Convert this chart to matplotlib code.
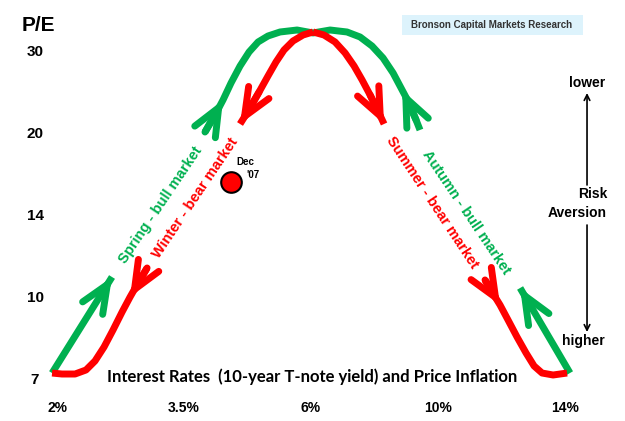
import matplotlib
matplotlib.use("Agg")
import matplotlib.pyplot as plt
from matplotlib.patches import Rectangle

# couleurs
verde = '#00B050'
vermelho = '#FF0000'

# eixos: posicao dos rotulos (indice 0..4)
x_rotulos = ['2%', '3.5%', '6%', '10%', '14%']
y_rotulos = ['7', '10', '14', '20', '30']

# caminhos (em unidades de indice dos eixos)
spring_x = [-0.039, 0.433]
spring_y = [0.085, 1.256]

winter_baixo_x = [0.709, 0.638, 0.575, 0.512, 0.441, 0.370, 0.299, 0.228, 0.142, 0.039, -0.039]
winter_baixo_y = [1.366, 1.183, 1.012, 0.829, 0.610, 0.402, 0.232, 0.122, 0.073, 0.073, 0.085]

topo_verde_x = [1.165, 1.236, 1.307, 1.370, 1.441, 1.512, 1.583, 1.661, 1.756, 1.890, 2.016,
                2.150, 2.283, 2.386, 2.480, 2.567, 2.646, 2.717, 2.780, 2.827, 2.858]
topo_verde_y = [3.024, 3.207, 3.415, 3.622, 3.829, 4.000, 4.122, 4.195, 4.244, 4.268, 4.232,
                4.268, 4.244, 4.183, 4.073, 3.927, 3.744, 3.537, 3.354, 3.171, 3.049]

topo_verm_esq_x = [2.016, 1.937, 1.858, 1.787, 1.724, 1.661, 1.591, 1.520, 1.441]
topo_verm_esq_y = [4.244, 4.207, 4.134, 4.024, 3.878, 3.707, 3.512, 3.317, 3.122]
topo_verm_dir_x = [2.016, 2.102, 2.189, 2.268, 2.339, 2.402, 2.465, 2.520, 2.575]
topo_verm_dir_y = [4.244, 4.207, 4.122, 3.988, 3.829, 3.659, 3.476, 3.305, 3.122]

summer_baixo_x = [3.370, 3.425, 3.488, 3.551, 3.622, 3.693, 3.756, 3.819, 3.906, 4.016]
summer_baixo_y = [1.220, 1.073, 0.915, 0.732, 0.524, 0.329, 0.171, 0.085, 0.061, 0.085]

autumn_x = [4.039, 3.646]
autumn_y = [0.085, 1.122]

# pontas de seta: (ponta, cauda, cor)
setas = [
    ((0.433, 1.256), (0.339, 1.022), verde),
    ((1.307, 3.415), (1.165, 3.024), verde),
    ((2.717, 3.537), (2.827, 3.171), verde),
    ((3.646, 1.122), (3.725, 0.915), verde),
    ((1.441, 3.122), (1.591, 3.512), vermelho),
    ((0.575, 1.012), (0.709, 1.366), vermelho),
    ((2.575, 3.122), (2.465, 3.476), vermelho),
    ((3.488, 0.915), (3.370, 1.220), vermelho),
]

dez07 = (1.370, 2.415)

fig = plt.figure(figsize=(6.25, 4.21), dpi=100)
ax = fig.add_axes([0, 0, 1, 1])
ax.set_xlim(-0.449, 4.472)
ax.set_ylim(-0.5, 4.634)
ax.axis('off')

lw = 5
for xs, ys, c in [(spring_x, spring_y, verde), (topo_verde_x, topo_verde_y, verde),
                  (autumn_x, autumn_y, verde),
                  (winter_baixo_x, winter_baixo_y, vermelho),
                  (topo_verm_esq_x, topo_verm_esq_y, vermelho),
                  (topo_verm_dir_x, topo_verm_dir_y, vermelho),
                  (summer_baixo_x, summer_baixo_y, vermelho)]:
    ax.plot(xs, ys, color=c, lw=lw, solid_capstyle='butt', solid_joinstyle='round')

for ponta, cauda, c in setas:
    ax.annotate('', xy=ponta, xytext=cauda,
                arrowprops=dict(arrowstyle='->, head_length=2.0, head_width=0.85',
                                color=c, lw=lw, shrinkA=0, shrinkB=0, mutation_scale=10))

fonte = 'Liberation Sans'
tam = 10.5
ax.text(0.815, 2.134, 'Spring - bull market', color=verde, fontsize=tam, fontweight='bold',
        family=fonte, rotation=56, rotation_mode='anchor', ha='center', va='center')
ax.text(1.087, 2.220, 'Winter - bear market', color=vermelho, fontsize=tam, fontweight='bold',
        family=fonte, rotation=56, rotation_mode='anchor', ha='center', va='center')
ax.text(2.953, 2.170, 'Summer - bear market', color=vermelho, fontsize=tam, fontweight='bold',
        family=fonte, rotation=-56.5, rotation_mode='anchor', ha='center', va='center')
ax.text(3.220, 2.050, 'Autumn - bull market', color=verde, fontsize=tam, fontweight='bold',
        family=fonte, rotation=-56, rotation_mode='anchor', ha='center', va='center')

# Dec '07
ax.scatter([dez07[0]], [dez07[1]], s=220, color=vermelho, edgecolor='black', linewidth=1.5, zorder=5)
ax.text(1.480, 2.659, 'Dec', fontsize=7, fontweight='bold', family=fonte, ha='center', va='center')
ax.text(1.540, 2.500, "'07", fontsize=7, fontweight='bold', family=fonte, ha='center', va='center')

# rotulos dos eixos
for i, r in enumerate(x_rotulos):
    ax.text(i, -0.341, r, fontsize=10, fontweight='bold', family=fonte, ha='center', va='center')
for j, r in enumerate(y_rotulos):
    ax.text(-0.173, j, r, fontsize=11, fontweight='bold', family=fonte, ha='center', va='center')
ax.text(-0.150, 4.329, 'P/E', fontsize=15, fontweight='bold', family=fonte, ha='center', va='center')

ax.text(2.008, 0.037, 'Interest Rates  (10-year T-note yield) and Price Inflation',
        fontsize=12, fontweight='bold', family='Lato', ha='center', va='center')

# aversao ao risco
ax.text(4.173, 3.622, 'lower', fontsize=10, fontweight='bold', family=fonte, ha='center', va='center')
ax.annotate('', xy=(4.173, 3.50), xytext=(4.173, 2.378),
            arrowprops=dict(arrowstyle='->', color='black', lw=1.2, shrinkA=0, shrinkB=0))
ax.text(4.331, 2.268, 'Risk', fontsize=10, fontweight='bold', family=fonte, ha='right', va='center')
ax.text(4.331, 2.037, 'Aversion', fontsize=10, fontweight='bold', family=fonte, ha='right', va='center')
ax.annotate('', xy=(4.173, 0.585), xytext=(4.173, 1.89),
            arrowprops=dict(arrowstyle='->', color='black', lw=1.2, shrinkA=0, shrinkB=0))
ax.text(4.142, 0.476, 'higher', fontsize=10, fontweight='bold', family=fonte, ha='center', va='center')

ax.add_patch(Rectangle((2.717, 4.207), 1.425, 0.244, facecolor='#DDF3FC', edgecolor='none'))
ax.text(3.425, 4.329, 'Bronson Capital Markets Research', fontsize=7, fontweight='bold',
        family=fonte, color='#333333', ha='center', va='center')

plt.savefig('out.png', dpi=100)
